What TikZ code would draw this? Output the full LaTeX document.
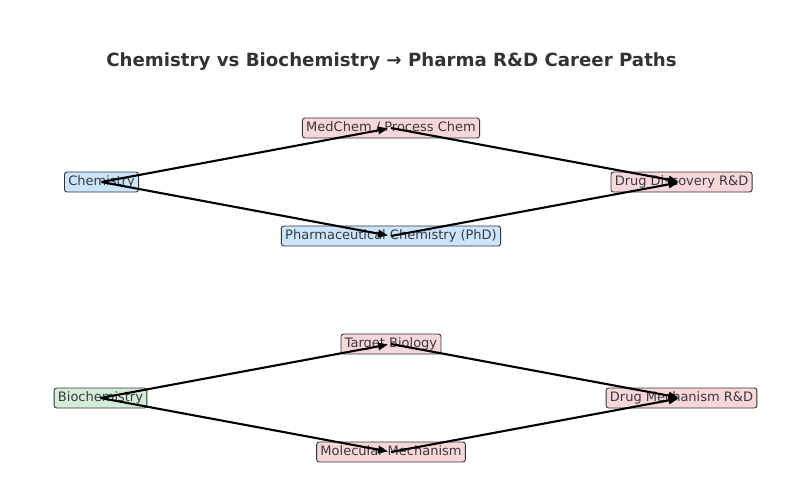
\documentclass[tikz,border=0pt]{standalone}
\usepackage{fontspec}
\setmainfont{DejaVu Sans}
\usetikzlibrary{arrows.meta}
\definecolor{cblue}{HTML}{CCE5FF}
\definecolor{cpink}{HTML}{F8D7DA}
\definecolor{cgreen}{HTML}{D4EDDA}
\definecolor{cedge}{HTML}{333333}
\definecolor{ctext}{HTML}{3A3A3A}
\tikzset{
  box/.style={draw=cedge, line width=0.9pt, rounded corners=2.5pt,
    inner xsep=3.8pt, inner ysep=0pt, minimum height=20pt,
    text height=9.9pt, text depth=2.7pt, text=ctext,
    font=\fontsize{13}{15}\selectfont},
  link/.style={line width=2.1pt, black, -{Triangle[length=10pt,width=7.5pt]}, shorten >=3pt}
}
\begin{document}
\begin{tikzpicture}[x=1pt,y=-1pt]
\useasboundingbox (0,0) rectangle (810,501);
\node[anchor=base, text=cedge, font=\fontsize{18.2}{21}\selectfont\bfseries] (title) at (391.5,66.5) {Chemistry vs Biochemistry → Pharma R\&D Career Paths};

\node[box, fill=cblue] (chem) at (101.5,182) {Chemistry};
\node[box, fill=cpink] (medchem) at (391,128) {MedChem / Process Chem};
\node[box, fill=cblue] (pharm) at (391,236) {Pharmaceutical Chemistry (PhD)};
\node[box, fill=cpink] (dd) at (681.5,182) {Drug Discovery R\&D};

\node[box, fill=cgreen] (bio) at (100.5,398) {Biochemistry};
\node[box, fill=cpink] (target) at (391,344) {Target Biology};
\node[box, fill=cpink] (mol) at (391,452) {Molecular Mechanism};
\node[box, fill=cpink] (dm) at (681.5,398) {Drug Mechanism R\&D};

\draw[link] (chem.center) -- (medchem.center);
\draw[link] (chem.center) -- (pharm.center);
\draw[link] (medchem.center) -- (dd.center);
\draw[link] (pharm.center) -- (dd.center);

\draw[link] (bio.center) -- (target.center);
\draw[link] (bio.center) -- (mol.center);
\draw[link] (target.center) -- (dm.center);
\draw[link] (mol.center) -- (dm.center);
\end{tikzpicture}
\end{document}
